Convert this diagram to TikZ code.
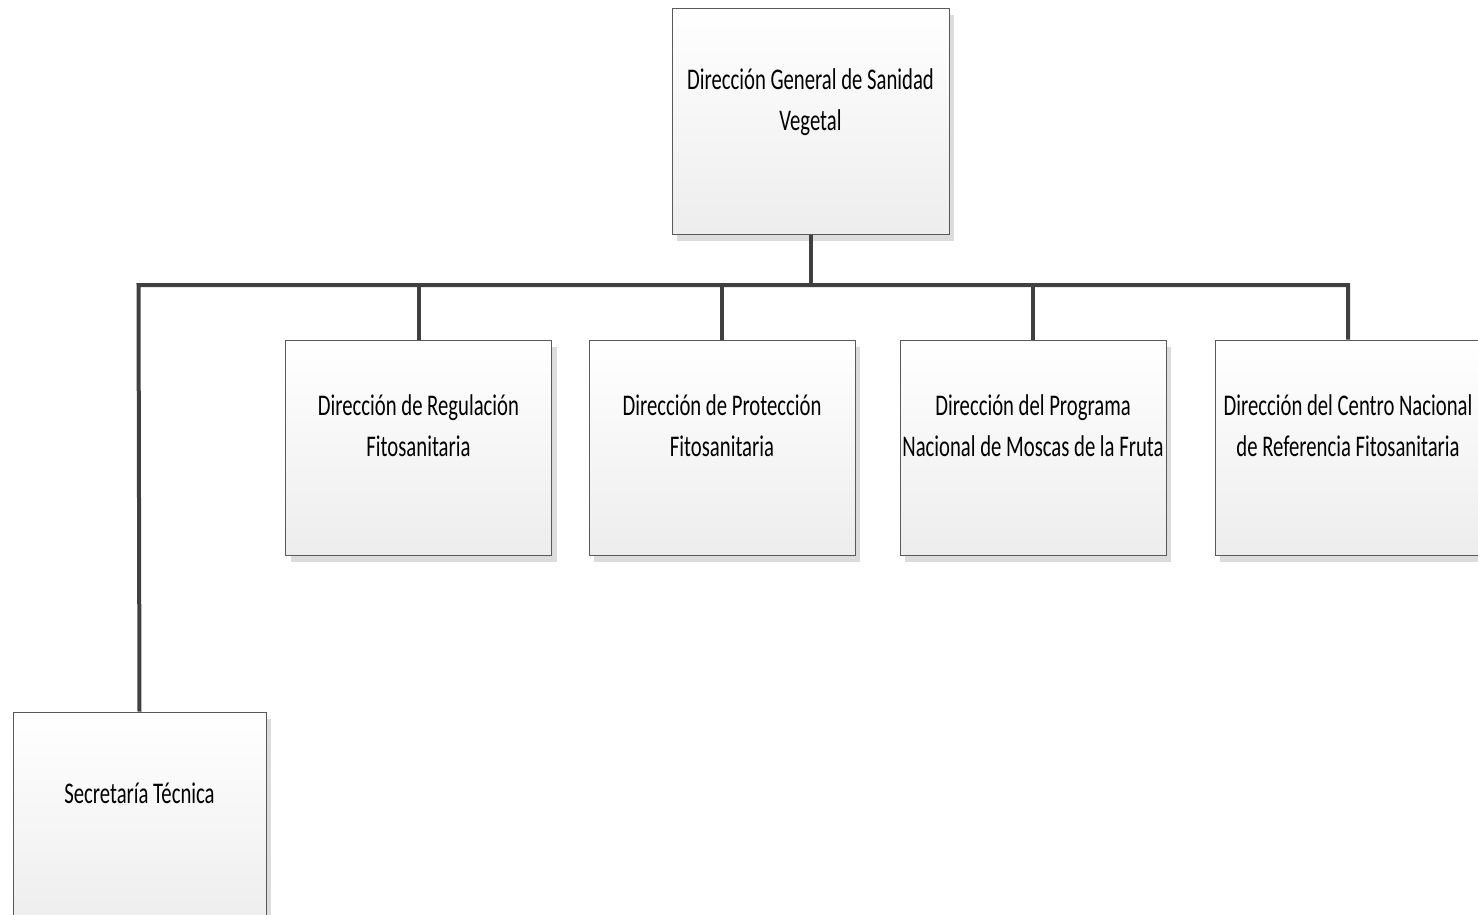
\documentclass[tikz,border=0pt]{standalone}
\usepackage{fontspec}
\setmainfont{Carlito}[FakeStretch=0.69]
\usetikzlibrary{shadows,calc}
\definecolor{conncol}{HTML}{404040}
\definecolor{boxborder}{HTML}{595959}
\definecolor{shadowcol}{HTML}{DCDCDC}
\tikzset{
  orgbox/.style={draw=boxborder, line width=1pt, rectangle, inner sep=0pt,
    top color=white, bottom color=black!7,
    drop shadow={shadow xshift=5pt, shadow yshift=-7pt, fill=shadowcol, opacity=1}},
  boxtext/.style={align=center, anchor=base, inner sep=0pt,
    font=\fontsize{30pt}{41pt}\selectfont, text=black},
  conn/.style={draw=conncol, line width=4pt, line join=miter}
}
\begin{document}
\begin{tikzpicture}[x=1pt,y=-1pt]
\useasboundingbox (0,0) rectangle (1478,914);
\fill[white] (0,0) rectangle (1478,914);
\begin{scope}
\clip (0,0) rectangle (1478,914);
% boxes
\node[orgbox, anchor=north west, minimum width=277pt, minimum height=226pt] (dg) at (671.5,7.5) {};
\node[orgbox, anchor=north west, minimum width=266pt, minimum height=215pt] (b1) at (285,339.5) {};
\node[orgbox, anchor=north west, minimum width=266pt, minimum height=215pt] (b2) at (588.5,339.5) {};
\node[orgbox, anchor=north west, minimum width=266pt, minimum height=215pt] (b3) at (899.5,339.5) {};
\node[orgbox, anchor=north west, minimum width=266pt, minimum height=215pt] (b4) at (1214.5,339.5) {};
\node[orgbox, anchor=north west, minimum width=253pt, minimum height=215pt] (st) at (12.5,711.5) {};
% connectors
\coordinate (busL) at (138.5,285);
\draw[conn] (dg.south) -- (dg.south |- busL);
\draw[conn] (b4.north) -- (b4.north |- busL) -- (busL) -- (st.north);
\draw[conn] (b1.north |- busL) -- (b1.north);
\draw[conn] (b2.north |- busL) -- (b2.north);
\draw[conn] (b3.north |- busL) -- (b3.north);
% texts
\node[boxtext] (tdg) at (dg.center |- 0,130) {Dirección General de Sanidad\\Vegetal};
\node[boxtext] (tb1) at (b1.center |- 0,456) {Dirección de Regulación\\Fitosanitaria};
\node[boxtext] (tb2) at (b2.center |- 0,456) {Dirección de Protección\\Fitosanitaria};
\node[boxtext] (tb3) at (b3.center |- 0,456) {Dirección del Programa\\Nacional de Moscas de la Fruta};
\node[boxtext] (tb4) at (b4.center |- 0,456) {Dirección del Centro Nacional\\de Referencia Fitosanitaria};
\node[boxtext] (tst) at (st.center |- 0,803) {Secretaría Técnica};
\end{scope}
\end{tikzpicture}
\end{document}
